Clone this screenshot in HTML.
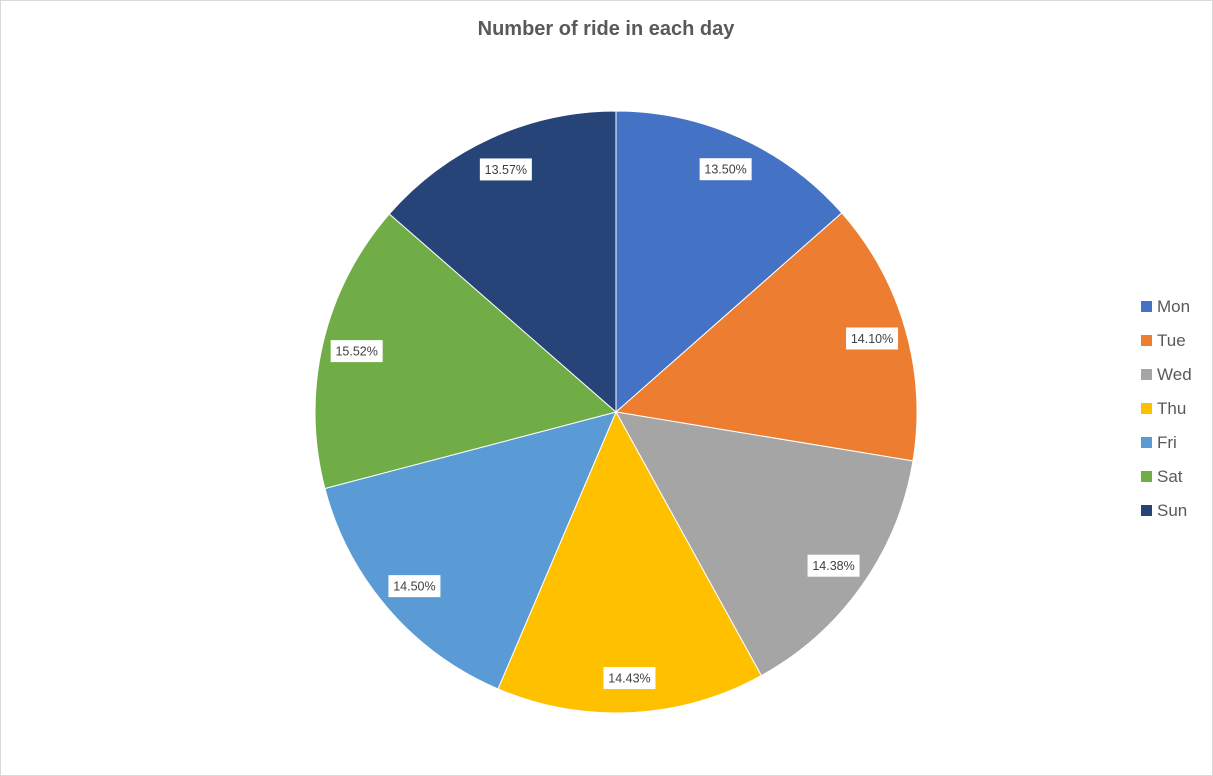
<!DOCTYPE html>
<html><head><style>
body{margin:0;background:#fff;}
svg{display:block;font-family:"Liberation Sans",Calibri,sans-serif;}
</style></head><body>
<svg id="chart" width="1213" height="776">
<rect x="0.5" y="0.5" width="1212" height="775" fill="#fff" stroke="#d9d9d9"/>
<text x="606" y="35" text-anchor="middle" font-size="20" font-weight="bold" fill="#595959">Number of ride in each day</text>
<g id="slices"></g><g id="labels"></g><g id="legend"></g>
</svg>
<script>
const categories=["Mon","Tue","Wed","Thu","Fri","Sat","Sun"];
const values=[13.50,14.10,14.38,14.43,14.50,15.52,13.57];
const colors=["#4472c4","#ed7d31","#a5a5a5","#ffc000","#5b9bd5","#70ad47","#264478"];
const NS="http://www.w3.org/2000/svg";
const cx=616,cy=412,R=301;
const total=values.reduce((a,b)=>a+b,0);
const sG=document.getElementById('slices'),lG=document.getElementById('labels'),gG=document.getElementById('legend');
function pt(a,r){return [cx+r*Math.sin(a),cy-r*Math.cos(a)];}
let a0=0;
values.forEach((v,i)=>{
  const a1=a0+v/total*2*Math.PI;
  const p0=pt(a0,R),p1=pt(a1,R);
  const p=document.createElementNS(NS,'path');
  p.setAttribute('d',`M${cx},${cy}L${p0[0]},${p0[1]}A${R},${R} 0 ${a1-a0>Math.PI?1:0} 1 ${p1[0]},${p1[1]}Z`);
  p.setAttribute('fill',colors[i]);p.setAttribute('stroke','#fff');p.setAttribute('stroke-width','1');
  
  
  sG.appendChild(p);
  const m=pt((a0+a1)/2,R*0.885);
  const g=document.createElementNS(NS,'g');
  
  
  const r=document.createElementNS(NS,'rect');
  r.setAttribute('x',m[0]-26);r.setAttribute('y',m[1]-11);r.setAttribute('width',52);r.setAttribute('height',22);r.setAttribute('fill','#fff');
  const t=document.createElementNS(NS,'text');
  t.setAttribute('x',m[0]);t.setAttribute('y',m[1]+4.5);t.setAttribute('text-anchor','middle');t.setAttribute('font-size','12.5');t.setAttribute('fill','#404040');
  t.textContent=v.toFixed(2)+'%';
  g.appendChild(r);g.appendChild(t);lG.appendChild(g);
  a0=a1;
});
categories.forEach((c,i)=>{
  const y=306+i*34;
  const g=document.createElementNS(NS,'g');
  
  
  const r=document.createElementNS(NS,'rect');
  r.setAttribute('x',1141);r.setAttribute('y',y-5);r.setAttribute('width',11);r.setAttribute('height',11);r.setAttribute('fill',colors[i]);
  const t=document.createElementNS(NS,'text');
  t.setAttribute('x',1157);t.setAttribute('y',y+6);t.setAttribute('font-size','17');t.setAttribute('fill','#595959');
  t.textContent=c;
  g.appendChild(r);g.appendChild(t);gG.appendChild(g);
});
</script>
</body></html>
